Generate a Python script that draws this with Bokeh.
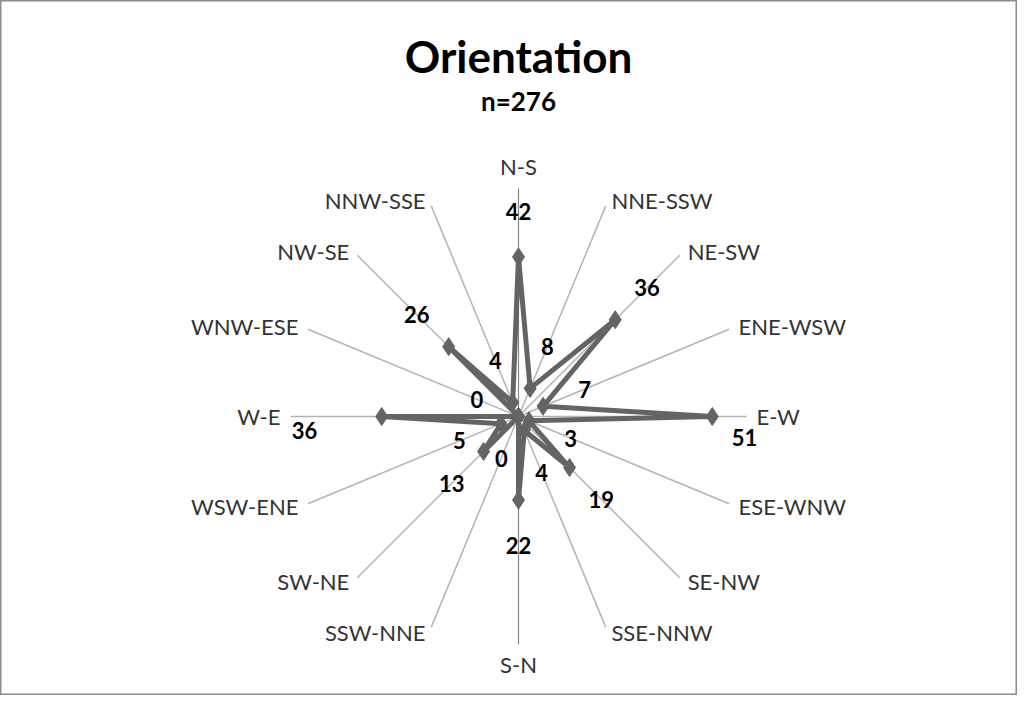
import math
from bokeh.plotting import figure
from bokeh.models import Range1d, ColumnDataSource
from bokeh.core.properties import value
from bokeh.embed import file_html
from bokeh.resources import INLINE

# ---- data ----
categories = ["N-S", "NNE-SSW", "NE-SW", "ENE-WSW", "E-W", "ESE-WNW", "SE-NW", "SSE-NNW",
              "S-N", "SSW-NNE", "SW-NE", "WSW-ENE", "W-E", "WNW-ESE", "NW-SE", "NNW-SSE"]
counts = [42, 8, 36, 7, 51, 3, 19, 4, 22, 0, 13, 5, 36, 0, 26, 4]
title_text = "Orientation"
subtitle_text = "n=276"
axis_max = 60

# ---- layout ----
W, H = 1017, 695
cx_px, cy_px = 518, 416          # center of the radar inside the figure (px from top-left)
scale = 3.8                       # px per unit
FONT = "Lato"

p = figure(width=W, height=H, output_backend="svg", toolbar_location=None,
           x_range=Range1d(-cx_px / scale, (W - cx_px) / scale),
           y_range=Range1d(-(H - cy_px) / scale, cy_px / scale),
           min_border=0, x_axis_type=None, y_axis_type=None)
p.xgrid.visible = False
p.ygrid.visible = False
p.outline_line_color = "#8c8c8c"
p.outline_line_width = 2
p.background_fill_color = "white"
p.border_fill_color = "white"

n = len(categories)
angles = [math.pi / 2 - i * 2 * math.pi / n for i in range(n)]
cosv = [math.cos(a) for a in angles]
sinv = [math.sin(a) for a in angles]

# spokes
for i in range(n):
    vertical = abs(cosv[i]) < 1e-6
    p.line([0, axis_max * cosv[i]], [0, axis_max * sinv[i]],
           line_color="#868686" if vertical else "#b4b4b4",
           line_width=1.2 if vertical else 1.5)

# series
xs = [counts[i] * cosv[i] for i in range(n)]
ys = [counts[i] * sinv[i] for i in range(n)]
p.line(xs + [xs[0]], ys + [ys[0]], line_color="#646464", line_width=5, line_join="round")
p.scatter(xs, ys, marker="diamond", size=18, fill_color="#646464", line_color="#646464")

# data labels
off = 45 / scale
lx, ly = [], []
for i in range(n):
    lx.append(xs[i] + off * cosv[i])
    ly.append(ys[i] + off * sinv[i])
# horizontal labels are nudged aside as in the original
special = {"E-W": (226 / scale, -21 / scale), "W-E": (-214 / scale, -14 / scale)}
for i, c in enumerate(categories):
    if c in special:
        lx[i], ly[i] = special[c]
p.text(lx, ly, text=[str(v) for v in counts], text_font=value(FONT),
       text_font_style="bold", text_font_size="22px", text_color="black",
       text_align="center", text_baseline="middle")

# category labels
R = axis_max
cat_x, cat_y, cat_align = [], [], []
for i in range(n):
    c, s = cosv[i], sinv[i]
    if abs(c) < 1e-6:
        cat_x.append(0)
        cat_y.append((R + 22 / scale) if s > 0 else -(R + 20 / scale))
        cat_align.append("center")
    else:
        gap = (3 + 7 * abs(c)) / scale
        cat_x.append(R * c + (gap if c > 0 else -gap))
        cat_y.append(R * s + 6 * s / scale)
        cat_align.append("left" if c > 0 else "right")
src = ColumnDataSource(dict(x=cat_x, y=cat_y, t=categories, a=cat_align))
p.text("x", "y", text="t", source=src, text_font=value(FONT), text_font_size="22px",
       text_color="#333333", text_align="a", text_baseline="middle")

# titles
p.text([0], [(cy_px - 55) / scale], text=[title_text], text_font=value(FONT),
       text_font_style="bold", text_font_size="44px", text_color="black",
       text_align="center", text_baseline="middle")
p.text([0], [(cy_px - 100) / scale], text=[subtitle_text], text_font=value(FONT),
       text_font_style="bold", text_font_size="26px", text_color="black",
       text_align="center", text_baseline="middle")

open("out.html", "w").write(file_html(p, INLINE))
